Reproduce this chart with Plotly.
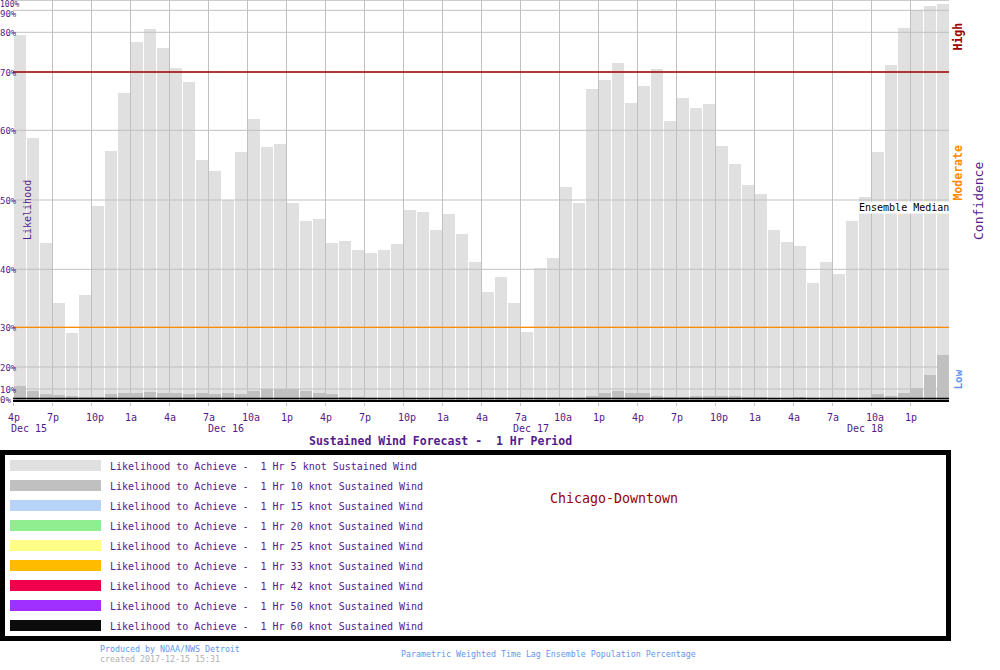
import numpy as np
import plotly.graph_objects as go

# ---------------- data ----------------
hours = list(range(72))  # hourly periods starting Dec 15 4p
p5 = [79.4, 58.9, 43.8, 34.2, 28.6, 35.6, 49.2, 57.0, 66.4, 77.6, 81.5, 76.1,
      71.1, 68.3, 55.8, 54.2, 50.0, 56.9, 62.0, 57.6, 58.1, 49.5, 47.0, 47.3,
      43.8, 44.1, 42.8, 42.4, 42.8, 43.7, 48.5, 48.3, 45.7, 48.0, 45.1, 41.1,
      36.1, 38.6, 34.2, 28.9, 40.2, 41.7, 51.9, 49.5, 67.0, 68.7, 72.3, 64.7,
      67.6, 70.8, 61.6, 65.5, 63.8, 64.5, 57.8, 55.2, 52.1, 50.9, 45.7, 43.9,
      43.4, 37.7, 41.0, 39.2, 46.9, 50.4, 56.9, 71.8, 82.0, 90.3, 94.6, 96.6]
p10 = [11.5, 8.3, 5.0, 3.7, 2.7, 2.3, 2.3, 4.7, 6.0, 5.7, 6.7, 5.7,
       6.3, 4.7, 6.3, 5.3, 5.7, 5.3, 8.3, 10.0, 10.0, 10.0, 8.3, 6.3,
       4.7, 2.3, 2.3, 1.3, 0, 0, 0, 0, 0, 0, 0, 0,
       0, 0, 0, 0, 0, 0, 0, 0, 3.3, 5.7, 7.7, 5.7,
       5.7, 3.3, 2.3, 2.3, 3.3, 3.3, 3.3, 3.3, 2.3, 2.3, 1.3, 1.3,
       2.3, 1.3, 1.3, 1.3, 1.3, 1.3, 4.7, 3.3, 5.7, 10.6, 16.2, 22.9]

hour_tick_labels = ["4p", "7p", "10p", "1a", "4a", "7a", "10a", "1p"] * 3
hour_tick_vals = [3 * k for k in range(24)]
date_labels = ["Dec 15", "Dec 16", "Dec 17", "Dec 18"]
date_label_hours = [-0.25, 14.9, 38.4, 64.1]

pct_ticks = [0, 10, 20, 30, 40, 50, 60, 70, 80, 90, 100]
pct_tick_labels = ["0%", "10%", "20%", "30%", "40%", "50%", "60%", "70%", "80%", "90%", "100%"]
# non-linear (probability) axis scale: height above plot bottom for each tick
scale_heights = [3.0, 13.0, 35.0, 74.7, 132.7, 202.0, 271.7, 330.0, 369.7, 391.7, 401.7]

legend_thresholds = ["5", "10", "15", "20", "25", "33", "42", "50", "60"]
legend_colors = ["#e0e0e0", "#c0c0c0", "#b7d3f8", "#90ee90", "#ffff88",
                 "#ffbb00", "#f0004c", "#a030ff", "#0c0c0c"]

PURPLE = "#551a8b"
FONT = "DejaVu Sans Mono"


def scale(p):
    return [float(v) for v in np.atleast_1d(np.interp(p, pct_ticks, scale_heights))]


def s1(p):
    return scale(p)[0]


# pixel helpers for layout (plot area: x 13..949, y 0..402)
L, PW, PH = 13, 936, 402
PX_PER_HOUR = PW / 72


def px(X):
    return (X - L) / PW


def py(Y):
    return (PH - Y) / PH


fig = go.Figure()
xc = [h + 0.5 for h in hours]
fig.add_bar(x=xc, y=scale(p5), width=12 / 13,
            marker=dict(color=legend_colors[0], line_width=0), hoverinfo="skip")
fig.add_bar(x=xc, y=scale(p10), width=12 / 13,
            marker=dict(color=legend_colors[1], line_width=0), hoverinfo="skip")

shapes = []
for p in pct_ticks[1:]:
    shapes.append(dict(type="line", xref="x", yref="y", x0=0, x1=72,
                       y0=s1(p), y1=s1(p), layer="above",
                       line=dict(color="#c0c0c0", width=1)))
shapes.append(dict(type="line", xref="x", yref="y", x0=0, x1=72,
                   y0=s1(70), y1=s1(70), layer="above",
                   line=dict(color="#a00000", width=1.7)))
shapes.append(dict(type="line", xref="x", yref="y", x0=0, x1=72,
                   y0=s1(30), y1=s1(30), layer="above",
                   line=dict(color="#ff8c00", width=1.3)))
# bottom baseline
shapes.append(dict(type="line", xref="x", yref="y", x0=0, x1=72, y0=3.6, y1=3.6,
                   layer="above", line=dict(color="black", width=1.2)))
shapes.append(dict(type="rect", xref="x", yref="y", x0=0, x1=72, y0=0, y1=2.3,
                   layer="above", fillcolor="black", line=dict(width=0)))

# legend box
shapes.append(dict(type="rect", xref="paper", yref="paper",
                   x0=px(2.5), x1=px(948.5), y0=py(452.5), y1=py(638.5),
                   line=dict(color="black", width=5), fillcolor="rgba(0,0,0,0)"))
annotations = []
for i, (thr, col) in enumerate(zip(legend_thresholds, legend_colors)):
    yc = 465.5 + 20 * i
    shapes.append(dict(type="rect", xref="paper", yref="paper",
                       x0=px(10), x1=px(101), y0=py(yc - 5.5), y1=py(yc + 5.5),
                       fillcolor=col, line=dict(width=0)))
    annotations.append(dict(xref="paper", yref="paper", x=px(108), y=py(yc + 0.5),
                            xanchor="left", yanchor="middle", showarrow=False,
                            text=f"Likelihood to Achieve - &nbsp;1 Hr {thr} knot Sustained Wind",
                            font=dict(family=FONT, size=10, color=PURPLE)))

# y tick labels
for p, lab in zip(pct_ticks, pct_tick_labels):
    Y = PH - s1(p) + 1
    size = 9
    if p == 100:
        Y, size = 4.8, 8
    elif p == 90:
        Y = 14.0
    annotations.append(dict(xref="paper", yref="paper", x=px(-1), y=py(Y),
                            xanchor="left", yanchor="middle", showarrow=False,
                            borderpad=0,
                            text=lab, font=dict(family=FONT, size=size, color=PURPLE)))

# x tick labels
for v, lab in zip(hour_tick_vals, hour_tick_labels):
    annotations.append(dict(xref="x", yref="paper", x=v, y=py(417), xshift=-7,
                            xanchor="left", yanchor="middle", showarrow=False,
                            text=lab, font=dict(family=FONT, size=10, color=PURPLE)))
for v, lab in zip(date_label_hours, date_labels):
    annotations.append(dict(xref="paper", yref="paper", x=px(L + v * PX_PER_HOUR), y=py(428),
                            xshift=-1, xanchor="left", yanchor="middle", showarrow=False,
                            text=lab, font=dict(family=FONT, size=10, color=PURPLE)))


def txt(X, Y, text, size, color, angle=0, xanchor="center", bold=False, bg=None):
    d = dict(xref="paper", yref="paper", x=px(X), y=py(Y), xanchor=xanchor,
             yanchor="middle", showarrow=False, textangle=angle,
             text=f"<b>{text}</b>" if bold else text,
             font=dict(family=FONT, size=size, color=color))
    if bg:
        d["bgcolor"] = bg
        d["borderpad"] = 0
    annotations.append(d)


txt(28, 210, "Likelihood", 10, PURPLE, angle=-90)
txt(957.5, 37, "High", 11.5, "#990000", angle=-90, bold=True)
txt(957.5, 173, "Moderate", 11.5, "#ff8c00", angle=-90, bold=True)
txt(957.5, 380, "Low", 11, "#6495ed", angle=-90, bold=True)
txt(978, 201, "Confidence", 13, PURPLE, angle=-90)
txt(950, 207, "Ensemble Median", 10, "black", xanchor="right", bg="white")
txt(440, 441, "Sustained Wind Forecast - &nbsp;1 Hr Period", 11.5, PURPLE, bold=True)
txt(614, 498, "Chicago-Downtown", 13.3, "#990000")
txt(98, 649, "Produced by NOAA/NWS Detroit", 8.3, "#6495ed", xanchor="left")
txt(98, 659, "created 2017-12-15 15:31", 8.3, "#b0b0b0", xanchor="left")
txt(399, 654, "Parametric Weighted Time Lag Ensemble Population Percentage", 8.3, "#6495ed", xanchor="left")

fig.update_layout(
    width=1000, height=670,
    margin=dict(l=L, r=1000 - L - PW, t=0, b=670 - PH, pad=0),
    plot_bgcolor="white", paper_bgcolor="white",
    barmode="overlay", bargap=0, showlegend=False,
    shapes=shapes, annotations=annotations,
    xaxis=dict(range=[0, 72], tickvals=hour_tick_vals, showticklabels=False,
               ticks="outside", ticklen=3, tickcolor="#c0c0c0", tickwidth=1,
               showgrid=True, gridcolor="#c0c0c0", gridwidth=1,
               zeroline=False, showline=False, fixedrange=True),
    yaxis=dict(range=[0, PH], visible=False, showgrid=False, zeroline=False,
               fixedrange=True),
)

fig.write_html("out.html", config={"displayModeBar": False},
               post_script="document.body.style.margin='0';document.body.style.overflow='hidden';")
